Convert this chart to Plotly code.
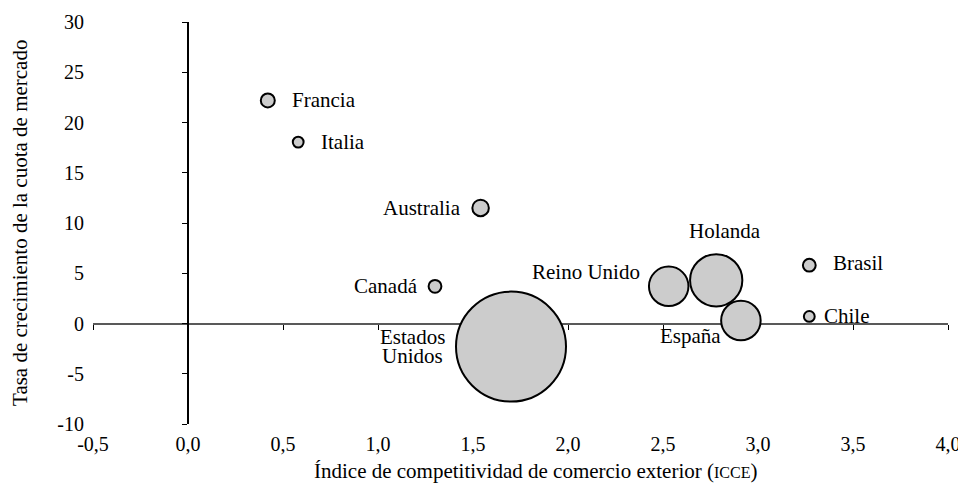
import plotly.graph_objects as go

# datos
paises = ["Francia", "Italia", "Australia", "Canadá", "Estados\nUnidos",
          "Reino Unido", "Holanda", "España", "Brasil", "Chile"]
icce = [0.42, 0.58, 1.54, 1.30, 1.70, 2.53, 2.78, 2.91, 3.27, 3.27]
crecimiento = [22.2, 18.05, 11.5, 3.7, -2.3, 3.7, 4.3, 0.3, 5.8, 0.7]
cuota = [0.5, 0.3, 0.7, 0.42, 31, 4, 7, 4, 0.42, 0.3]

x_ticks = [-0.5, 0, 0.5, 1, 1.5, 2, 2.5, 3, 3.5, 4]
x_labels = ["-0,5", "0,0", "0,5", "1,0", "1,5", "2,0", "2,5", "3,0", "3,5", "4,0"]
y_ticks = [-10, -5, 0, 5, 10, 15, 20, 25, 30]
y_labels = ["-10", "-5", "0", "5", "10", "15", "20", "25", "30"]

# posicion de las etiquetas (xanchor, desplazamiento x, desplazamiento y) en px
etiquetas = [("left", 22, 0), ("left", 21, 0), ("right", -18, 0), ("right", -15, 0),
             ("center", -99, 0), ("center", -83, 14), ("center", 9, 49),
             ("center", -50, -16), ("left", 22, 2), ("left", 13, 0)]

FONT = "Liberation Serif"
XR = [-0.5, 4]
YR = [-10, 30]

fig = go.Figure()
fig.add_trace(go.Scatter(
    x=icce, y=crecimiento, mode="markers",
    marker=dict(size=cuota, sizemode="area", sizeref=2.0 * max(cuota) / 110 ** 2,
                color="#cccccc", line=dict(color="black", width=2), opacity=1),
    hoverinfo="skip", showlegend=False))
# traza vacia para los ejes de etiquetas
fig.add_trace(go.Scatter(x=[None], y=[None], xaxis="x2", yaxis="y2", showlegend=False))

for nombre, xv, yv, (anc, dx, dy) in zip(paises, icce, crecimiento, etiquetas):
    lineas = nombre.split("\n")
    n = len(lineas)
    for i, txt in enumerate(lineas):
        fig.add_annotation(x=xv, y=yv, text=txt, showarrow=False, xanchor=anc,
                           yanchor="middle", xshift=dx, yshift=dy + (n - 1) * 9.5 - i * 19,
                           font=dict(family=FONT, size=21, color="black"))

fig.add_annotation(x=0.518, y=-0.117, xref="paper", yref="paper", showarrow=False,
                   xanchor="center", yanchor="middle",
                   text="Índice de competitividad de comercio exterior (<span style='font-size:16px'>ICCE</span>)",
                   font=dict(family=FONT, size=21, color="black"))
fig.add_annotation(x=-0.0854, y=0.5, xref="paper", yref="paper", showarrow=False,
                   xanchor="center", yanchor="middle",
                   textangle=-90, text="Tasa de crecimiento de la cuota de mercado",
                   font=dict(family=FONT, size=21, color="black"))

# la pagina tiene 8 px de margen en el body
fig.update_layout(
    width=958, height=483, margin=dict(l=85, r=18, t=14, b=67, autoexpand=False),
    plot_bgcolor="white", paper_bgcolor="white", font=dict(family=FONT, color="black"),
    xaxis=dict(range=XR, anchor="free", position=0.25, showline=True, linecolor="#595959",
               linewidth=2, ticks="outside", ticklen=5, tickcolor="black", tickvals=x_ticks,
               showticklabels=False, showgrid=False, zeroline=False, layer="below traces",
               automargin=False),
    yaxis=dict(range=YR, anchor="free", position=0.5 / 4.5, showline=True, linecolor="black",
               linewidth=2, ticks="outside", ticklen=5, tickcolor="black", tickvals=y_ticks,
               showticklabels=False, showgrid=False, zeroline=False, layer="below traces",
               automargin=False),
    xaxis2=dict(range=XR, overlaying="x", anchor="y2", side="bottom", tickvals=x_ticks,
                ticktext=x_labels, ticks="", showline=False, showgrid=False, zeroline=False,
                ticklabelstandoff=6, automargin=False,
                tickfont=dict(family=FONT, size=20, color="black")),
    yaxis2=dict(range=YR, overlaying="y", anchor="x2", side="left", tickvals=y_ticks,
                ticktext=y_labels, ticks="", showline=False, showgrid=False, zeroline=False,
                ticklabelstandoff=8, automargin=False,
                tickfont=dict(family=FONT, size=20, color="black")),
)

fig.write_html("out.html")
